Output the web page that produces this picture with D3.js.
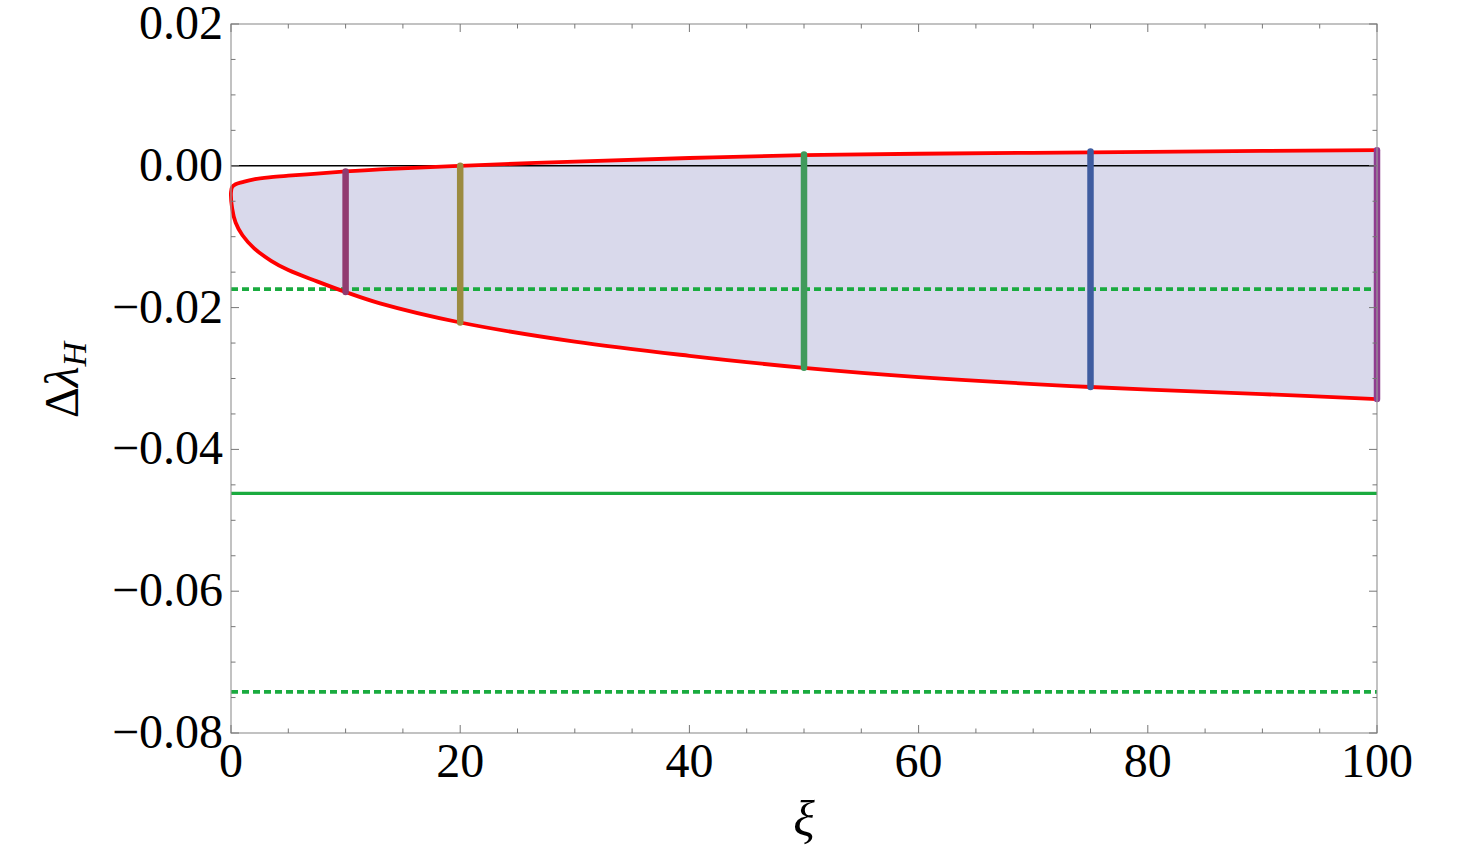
<!DOCTYPE html>
<html>
<head>
<meta charset="utf-8">
<script src="https://cdn.jsdelivr.net/npm/d3@7"></script>
</head>
<body style="margin:0">
<svg id="fig" width="1459" height="855"></svg>
<script>
// ---- data ----
const tipXi = 0;
const tipValue = -0.0037;
const xiGrid = [0.1, 0.4, 1, 2, 3.5, 5, 7.5, 10, 13, 20, 30, 40, 50, 60, 75, 90, 100];
const upperBranch = [-0.0030, -0.0026, -0.0023, -0.0019, -0.0016, -0.0014, -0.0011, -0.0008, -0.0005, 0.0000, 0.0006, 0.0011, 0.0015, 0.0017, 0.0019, 0.0021, 0.0022];
const lowerBranch = [-0.0060, -0.0080, -0.0098, -0.0116, -0.0134, -0.0147, -0.0163, -0.0178, -0.0194, -0.0221, -0.0248, -0.0268, -0.0285, -0.0298, -0.0312, -0.0322, -0.0329];

const scanXi = [10, 20, 50, 75, 100];
const scanLow = [-0.0178, -0.0221, -0.0285, -0.0312, -0.0329];
const scanHigh = [-0.0008, 0.0000, 0.0016, 0.0020, 0.0022];
const scanColors = ["#913b70", "#9c8b40", "#409a5b", "#3f5ca0", "#8f3d8f"];

const solidGreen = [-0.0462];
const dottedGreen = [-0.0174, -0.0742];

const xTicks = [0, 20, 40, 60, 80, 100];
const yTicks = [0.02, 0.00, -0.02, -0.04, -0.06, -0.08];
const xTickLabels = ["0", "20", "40", "60", "80", "100"];
const yTickLabels = ["0.02", "0.00", "\u22120.02", "\u22120.04", "\u22120.06", "\u22120.08"];

// ---- layout ----
const FONT = "Liberation Serif";
const svg = d3.select("#fig");
const L = 231, R = 1377, T = 24, B = 733;
const x = d3.scaleLinear().domain([0, 100]).range([L, R]);
const y = d3.scaleLinear().domain([-0.08, 0.02]).range([B, T]);

// region outline: upper from right to left, tip, lower left to right
const pts = [];
for (let i = xiGrid.length - 1; i >= 0; i--) pts.push([xiGrid[i], upperBranch[i]]);
pts.push([tipXi, tipValue]);
for (let i = 0; i < xiGrid.length; i++) pts.push([xiGrid[i], lowerBranch[i]]);

const line = d3.line().x(d => x(d[0])).y(d => y(d[1])).curve(d3.curveCatmullRom.alpha(0.5));

const plot = svg.append("g");

plot.append("path").attr("d", line(pts) + "Z").attr("fill", "#d9d9eb").attr("stroke", "none");

plot.append("line").attr("x1", L).attr("x2", R).attr("y1", y(0)).attr("y2", y(0))
  .attr("stroke", "#000").attr("stroke-width", 1.6);

plot.selectAll(".gs").data(solidGreen).join("line")
  .attr("x1", L).attr("x2", R).attr("y1", d => y(d)).attr("y2", d => y(d))
  .attr("stroke", "#1aab3f").attr("stroke-width", 3.2);
plot.selectAll(".gd").data(dottedGreen).join("line")
  .attr("x1", L).attr("x2", R).attr("y1", d => y(d)).attr("y2", d => y(d))
  .attr("stroke", "#1aab3f").attr("stroke-width", 3.6).attr("stroke-dasharray", "7,4");

plot.append("path").attr("d", line(pts)).attr("fill", "none")
  .attr("stroke", "#ff0000").attr("stroke-width", 3.8).attr("stroke-linejoin", "round");

plot.selectAll(".scan").data(scanXi).join("line")
  .attr("x1", d => x(d)).attr("x2", d => x(d))
  .attr("y1", (d, i) => y(scanLow[i])).attr("y2", (d, i) => y(scanHigh[i]))
  .attr("stroke", (d, i) => scanColors[i]).attr("stroke-width", 6.5).attr("stroke-linecap", "round");

// frame
const frame = svg.append("g");
frame.append("rect").attr("x", L).attr("y", T).attr("width", R - L).attr("height", B - T)
  .attr("fill", "none").attr("stroke", "#9a9a9a").attr("stroke-width", 1.2);

const xMinor = d3.range(0, 100.01, 5);
const yMinor = d3.range(-0.08, 0.0201, 0.005);
const tickColor = "#777";
xMinor.forEach(v => {
  const major = Math.abs(v % 20) < 1e-9;
  const len = major ? 8 : 4.5;
  frame.append("line").attr("x1", x(v)).attr("x2", x(v)).attr("y1", B).attr("y2", B - len).attr("stroke", tickColor).attr("stroke-width", 1);
  frame.append("line").attr("x1", x(v)).attr("x2", x(v)).attr("y1", T).attr("y2", T + len).attr("stroke", tickColor).attr("stroke-width", 1);
});
yMinor.forEach(v => {
  const major = Math.abs(Math.round(v * 1000) % 20) === 0;
  const len = major ? 8 : 4.5;
  frame.append("line").attr("x1", L).attr("x2", L + len).attr("y1", y(v)).attr("y2", y(v)).attr("stroke", tickColor).attr("stroke-width", 1);
  frame.append("line").attr("x1", R).attr("x2", R - len).attr("y1", y(v)).attr("y2", y(v)).attr("stroke", tickColor).attr("stroke-width", 1);
});

// tick labels
xTicks.forEach((d, i) => {
  svg.append("text").attr("x", x(d)).attr("y", B + 44).attr("text-anchor", "middle")
    .attr("font-size", 48).style("font-family", FONT).text(xTickLabels[i]);
});
yTicks.forEach((d, i) => {
  svg.append("text").attr("x", L - 8).attr("y", y(d) + 15).attr("text-anchor", "end")
    .attr("font-size", 48).style("font-family", FONT).text(yTickLabels[i]);
});

// axis titles
const yl = svg.append("text").attr("transform", "translate(78,380) rotate(-90)")
  .attr("text-anchor", "middle").attr("font-size", 48).style("font-family", FONT);
yl.append("tspan").text("\u0394");
yl.append("tspan").style("font-style", "italic").text("\u03bb");
yl.append("tspan").style("font-style", "italic").attr("font-size", 34).attr("dy", 8).text("H");

svg.append("text").attr("x", 804).attr("y", 836).attr("text-anchor", "middle")
  .attr("font-size", 50).style("font-family", FONT).style("font-style", "italic")
  .text("\u03be");
</script>
</body>
</html>
